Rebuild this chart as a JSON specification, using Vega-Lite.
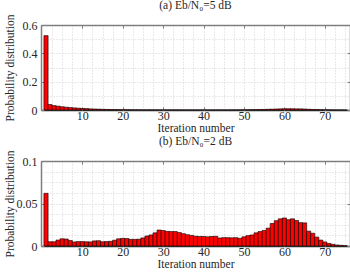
{
  "$schema": "https://vega.github.io/schema/vega-lite/v6.json",
  "padding": {"left": 3, "top": 0, "right": 0, "bottom": 2},
  "spacing": 2,
  "config": {
    "font": "Liberation Serif",
    "view": {"stroke": null},
    "axis": {
      "labelFont": "Liberation Serif",
      "labelFontSize": 12,
      "labelColor": "#262626",
      "titleFont": "Liberation Serif",
      "titleFontSize": 11.5,
      "titleFontWeight": "normal",
      "titleColor": "#262626",
      "gridColor": "#c8c8c8",
      "gridDash": [1, 2],
      "gridWidth": 0.8,
      "tickColor": "#7f7f7f",
      "domainColor": "#7f7f7f",
      "domainWidth": 1.5,
      "labelOverlap": false,
      "labelFlush": false
    },
    "title": {"font": "Liberation Serif", "fontSize": 11.5, "fontWeight": "normal", "color": "#262626", "offset": 2}
  },
  "datasets": {
    "a": [
      {"iteration": 1, "probability": 0.525},
      {"iteration": 2, "probability": 0.038},
      {"iteration": 3, "probability": 0.031},
      {"iteration": 4, "probability": 0.027},
      {"iteration": 5, "probability": 0.023},
      {"iteration": 6, "probability": 0.020},
      {"iteration": 7, "probability": 0.017},
      {"iteration": 8, "probability": 0.015},
      {"iteration": 9, "probability": 0.013},
      {"iteration": 10, "probability": 0.011},
      {"iteration": 11, "probability": 0.010},
      {"iteration": 12, "probability": 0.008},
      {"iteration": 13, "probability": 0.007},
      {"iteration": 14, "probability": 0.006},
      {"iteration": 15, "probability": 0.005},
      {"iteration": 16, "probability": 0.004},
      {"iteration": 17, "probability": 0.0035},
      {"iteration": 18, "probability": 0.003},
      {"iteration": 19, "probability": 0.0025},
      {"iteration": 20, "probability": 0.002},
      {"iteration": 21, "probability": 0.0018},
      {"iteration": 22, "probability": 0.0015},
      {"iteration": 23, "probability": 0.0013},
      {"iteration": 24, "probability": 0.0011},
      {"iteration": 25, "probability": 0.001},
      {"iteration": 26, "probability": 0.0009},
      {"iteration": 27, "probability": 0.0009},
      {"iteration": 28, "probability": 0.0008},
      {"iteration": 29, "probability": 0.0008},
      {"iteration": 30, "probability": 0.0007},
      {"iteration": 31, "probability": 0.0007},
      {"iteration": 32, "probability": 0.0007},
      {"iteration": 33, "probability": 0.0006},
      {"iteration": 34, "probability": 0.0006},
      {"iteration": 35, "probability": 0.0006},
      {"iteration": 36, "probability": 0.0005},
      {"iteration": 37, "probability": 0.0005},
      {"iteration": 38, "probability": 0.0005},
      {"iteration": 39, "probability": 0.0005},
      {"iteration": 40, "probability": 0.0005},
      {"iteration": 41, "probability": 0.0005},
      {"iteration": 42, "probability": 0.0005},
      {"iteration": 43, "probability": 0.0005},
      {"iteration": 44, "probability": 0.0005},
      {"iteration": 45, "probability": 0.0005},
      {"iteration": 46, "probability": 0.0005},
      {"iteration": 47, "probability": 0.0006},
      {"iteration": 48, "probability": 0.0007},
      {"iteration": 49, "probability": 0.0008},
      {"iteration": 50, "probability": 0.001},
      {"iteration": 51, "probability": 0.0015},
      {"iteration": 52, "probability": 0.002},
      {"iteration": 53, "probability": 0.0025},
      {"iteration": 54, "probability": 0.003},
      {"iteration": 55, "probability": 0.004},
      {"iteration": 56, "probability": 0.005},
      {"iteration": 57, "probability": 0.006},
      {"iteration": 58, "probability": 0.007},
      {"iteration": 59, "probability": 0.008},
      {"iteration": 60, "probability": 0.009},
      {"iteration": 61, "probability": 0.009},
      {"iteration": 62, "probability": 0.009},
      {"iteration": 63, "probability": 0.008},
      {"iteration": 64, "probability": 0.008},
      {"iteration": 65, "probability": 0.007},
      {"iteration": 66, "probability": 0.005},
      {"iteration": 67, "probability": 0.004},
      {"iteration": 68, "probability": 0.003},
      {"iteration": 69, "probability": 0.002},
      {"iteration": 70, "probability": 0.0015},
      {"iteration": 71, "probability": 0.001},
      {"iteration": 72, "probability": 0.0007},
      {"iteration": 73, "probability": 0.0005},
      {"iteration": 74, "probability": 0.0004},
      {"iteration": 75, "probability": 0.0003}
    ],
    "b": [
      {"iteration": 1, "probability": 0.062},
      {"iteration": 2, "probability": 0.005},
      {"iteration": 3, "probability": 0.005},
      {"iteration": 4, "probability": 0.007},
      {"iteration": 5, "probability": 0.0085},
      {"iteration": 6, "probability": 0.0082},
      {"iteration": 7, "probability": 0.0065},
      {"iteration": 8, "probability": 0.0048},
      {"iteration": 9, "probability": 0.0052},
      {"iteration": 10, "probability": 0.0052},
      {"iteration": 11, "probability": 0.005},
      {"iteration": 12, "probability": 0.0048},
      {"iteration": 13, "probability": 0.006},
      {"iteration": 14, "probability": 0.0062},
      {"iteration": 15, "probability": 0.005},
      {"iteration": 16, "probability": 0.0052},
      {"iteration": 17, "probability": 0.0055},
      {"iteration": 18, "probability": 0.0068},
      {"iteration": 19, "probability": 0.0085},
      {"iteration": 20, "probability": 0.009},
      {"iteration": 21, "probability": 0.0088},
      {"iteration": 22, "probability": 0.0078},
      {"iteration": 23, "probability": 0.0078},
      {"iteration": 24, "probability": 0.008},
      {"iteration": 25, "probability": 0.0095},
      {"iteration": 26, "probability": 0.0118},
      {"iteration": 27, "probability": 0.013},
      {"iteration": 28, "probability": 0.0155},
      {"iteration": 29, "probability": 0.0188},
      {"iteration": 30, "probability": 0.0182},
      {"iteration": 31, "probability": 0.0172},
      {"iteration": 32, "probability": 0.017},
      {"iteration": 33, "probability": 0.017},
      {"iteration": 34, "probability": 0.0158},
      {"iteration": 35, "probability": 0.0145},
      {"iteration": 36, "probability": 0.0133},
      {"iteration": 37, "probability": 0.0125},
      {"iteration": 38, "probability": 0.0115},
      {"iteration": 39, "probability": 0.0112},
      {"iteration": 40, "probability": 0.0112},
      {"iteration": 41, "probability": 0.0108},
      {"iteration": 42, "probability": 0.0112},
      {"iteration": 43, "probability": 0.0114},
      {"iteration": 44, "probability": 0.0094},
      {"iteration": 45, "probability": 0.0098},
      {"iteration": 46, "probability": 0.0098},
      {"iteration": 47, "probability": 0.0096},
      {"iteration": 48, "probability": 0.0098},
      {"iteration": 49, "probability": 0.009},
      {"iteration": 50, "probability": 0.0108},
      {"iteration": 51, "probability": 0.0122},
      {"iteration": 52, "probability": 0.013},
      {"iteration": 53, "probability": 0.0155},
      {"iteration": 54, "probability": 0.017},
      {"iteration": 55, "probability": 0.0182},
      {"iteration": 56, "probability": 0.021},
      {"iteration": 57, "probability": 0.0265},
      {"iteration": 58, "probability": 0.0298},
      {"iteration": 59, "probability": 0.032},
      {"iteration": 60, "probability": 0.033},
      {"iteration": 61, "probability": 0.031},
      {"iteration": 62, "probability": 0.032},
      {"iteration": 63, "probability": 0.030},
      {"iteration": 64, "probability": 0.0275},
      {"iteration": 65, "probability": 0.0272},
      {"iteration": 66, "probability": 0.0175},
      {"iteration": 67, "probability": 0.015},
      {"iteration": 68, "probability": 0.0105},
      {"iteration": 69, "probability": 0.007},
      {"iteration": 70, "probability": 0.0048},
      {"iteration": 71, "probability": 0.003},
      {"iteration": 72, "probability": 0.002},
      {"iteration": 73, "probability": 0.0012},
      {"iteration": 74, "probability": 0.0008},
      {"iteration": 75, "probability": 0.0004}
    ]
  },
  "vconcat": [
    {
      "width": 309,
      "height": 85,
      "title": {"text": "(a) Eb/N₀=5 dB"},
      "data": {"name": "a"},
      "layer": [
        {
          "mark": {"type": "bar", "width": 4.18, "fill": "#ff0000", "stroke": "#000000", "strokeWidth": 0.6, "clip": true},
          "encoding": {
            "x": {
              "field": "iteration", "type": "quantitative",
              "scale": {"domain": [1, 75], "nice": false, "zero": false},
              "axis": {
                "orient": "bottom", "title": "Iteration number", "titlePadding": 1,
                "values": [2.5, 5, 7.5, 10, 12.5, 15, 17.5, 20, 22.5, 25, 27.5, 30, 32.5, 35, 37.5, 40, 42.5, 45, 47.5, 50, 52.5, 55, 57.5, 60, 62.5, 65, 67.5, 70, 72.5, 75],
                "format": "d",
                "labelExpr": "datum.value % 10 === 0 ? datum.label : ''",
                "ticks": false,
                "labelPadding": 0,
                "minExtent": 0,
                "grid": true,
                "domainColor": "#262626"
              }
            },
            "y": {
              "field": "probability", "type": "quantitative",
              "scale": {"domain": [0, 0.6], "nice": false},
              "axis": {
                "orient": "left", "title": "Probability distribution",
                "values": [0, 0.1, 0.2, 0.3, 0.4, 0.5, 0.6],
                "format": "~g",
                "labelExpr": "abs(datum.value*5 - round(datum.value*5)) < 1e-6 ? datum.label : ''",
                "ticks": false,
                "labelPadding": 4,
                "grid": true,
                "titleX": -28,
                "titleBaseline": "alphabetic"
              }
            }
          }
        },
        {
          "mark": {"type": "bar", "width": 4.18, "opacity": 0, "clip": true},
          "encoding": {
            "x": {
              "field": "iteration", "type": "quantitative",
              "axis": {"orient": "top", "title": null, "labels": false, "values": [10, 20, 30, 40, 50, 60, 70], "tickSize": -3, "grid": false, "minExtent": 0, "maxExtent": 0}
            },
            "y": {
              "field": "probability", "type": "quantitative",
              "axis": {"orient": "right", "title": null, "labels": false, "values": [0, 0.2, 0.4, 0.6], "tickSize": -3, "grid": false, "minExtent": 0, "maxExtent": 0}
            }
          }
        },
        {
          "mark": {"type": "bar", "width": 4.18, "opacity": 0, "clip": true},
          "encoding": {
            "x": {
              "field": "iteration", "type": "quantitative",
              "axis": {"orient": "bottom", "title": null, "labels": false, "domain": false, "values": [10, 20, 30, 40, 50, 60, 70], "tickSize": -3, "grid": false, "minExtent": 0, "maxExtent": 0}
            },
            "y": {
              "field": "probability", "type": "quantitative",
              "axis": {"orient": "left", "title": null, "labels": false, "domain": false, "values": [0, 0.2, 0.4, 0.6], "tickSize": -3, "grid": false, "minExtent": 0, "maxExtent": 0}
            }
          }
        }
      ],
      "resolve": {"axis": {"x": "independent", "y": "independent"}}
    },
    {
      "width": 309,
      "height": 85,
      "title": {"text": "(b) Eb/N₀=2 dB"},
      "data": {"name": "b"},
      "layer": [
        {
          "mark": {"type": "bar", "width": 4.18, "fill": "#ff0000", "stroke": "#000000", "strokeWidth": 0.6, "clip": true},
          "encoding": {
            "x": {
              "field": "iteration", "type": "quantitative",
              "scale": {"domain": [1, 75], "nice": false, "zero": false},
              "axis": {
                "orient": "bottom", "title": "Iteration number", "titlePadding": 1,
                "values": [2.5, 5, 7.5, 10, 12.5, 15, 17.5, 20, 22.5, 25, 27.5, 30, 32.5, 35, 37.5, 40, 42.5, 45, 47.5, 50, 52.5, 55, 57.5, 60, 62.5, 65, 67.5, 70, 72.5, 75],
                "format": "d",
                "labelExpr": "datum.value % 10 === 0 ? datum.label : ''",
                "ticks": false,
                "labelPadding": 0,
                "minExtent": 0,
                "grid": true,
                "domainColor": "#262626"
              }
            },
            "y": {
              "field": "probability", "type": "quantitative",
              "scale": {"domain": [0, 0.1], "nice": false},
              "axis": {
                "orient": "left", "title": "Probability distribution",
                "values": [0, 0.0125, 0.025, 0.0375, 0.05, 0.0625, 0.075, 0.0875, 0.1],
                "format": "~g",
                "labelExpr": "abs(datum.value*20 - round(datum.value*20)) < 1e-6 ? datum.label : ''",
                "ticks": false,
                "labelPadding": 4,
                "grid": true,
                "titleX": -28,
                "titleBaseline": "alphabetic"
              }
            }
          }
        },
        {
          "mark": {"type": "bar", "width": 4.18, "opacity": 0, "clip": true},
          "encoding": {
            "x": {
              "field": "iteration", "type": "quantitative",
              "axis": {"orient": "top", "title": null, "labels": false, "values": [10, 20, 30, 40, 50, 60, 70], "tickSize": -3, "grid": false, "minExtent": 0, "maxExtent": 0}
            },
            "y": {
              "field": "probability", "type": "quantitative",
              "axis": {"orient": "right", "title": null, "labels": false, "values": [0, 0.05, 0.1], "tickSize": -3, "grid": false, "minExtent": 0, "maxExtent": 0}
            }
          }
        },
        {
          "mark": {"type": "bar", "width": 4.18, "opacity": 0, "clip": true},
          "encoding": {
            "x": {
              "field": "iteration", "type": "quantitative",
              "axis": {"orient": "bottom", "title": null, "labels": false, "domain": false, "values": [10, 20, 30, 40, 50, 60, 70], "tickSize": -3, "grid": false, "minExtent": 0, "maxExtent": 0}
            },
            "y": {
              "field": "probability", "type": "quantitative",
              "axis": {"orient": "left", "title": null, "labels": false, "domain": false, "values": [0, 0.05, 0.1], "tickSize": -3, "grid": false, "minExtent": 0, "maxExtent": 0}
            }
          }
        }
      ],
      "resolve": {"axis": {"x": "independent", "y": "independent"}}
    }
  ]
}
